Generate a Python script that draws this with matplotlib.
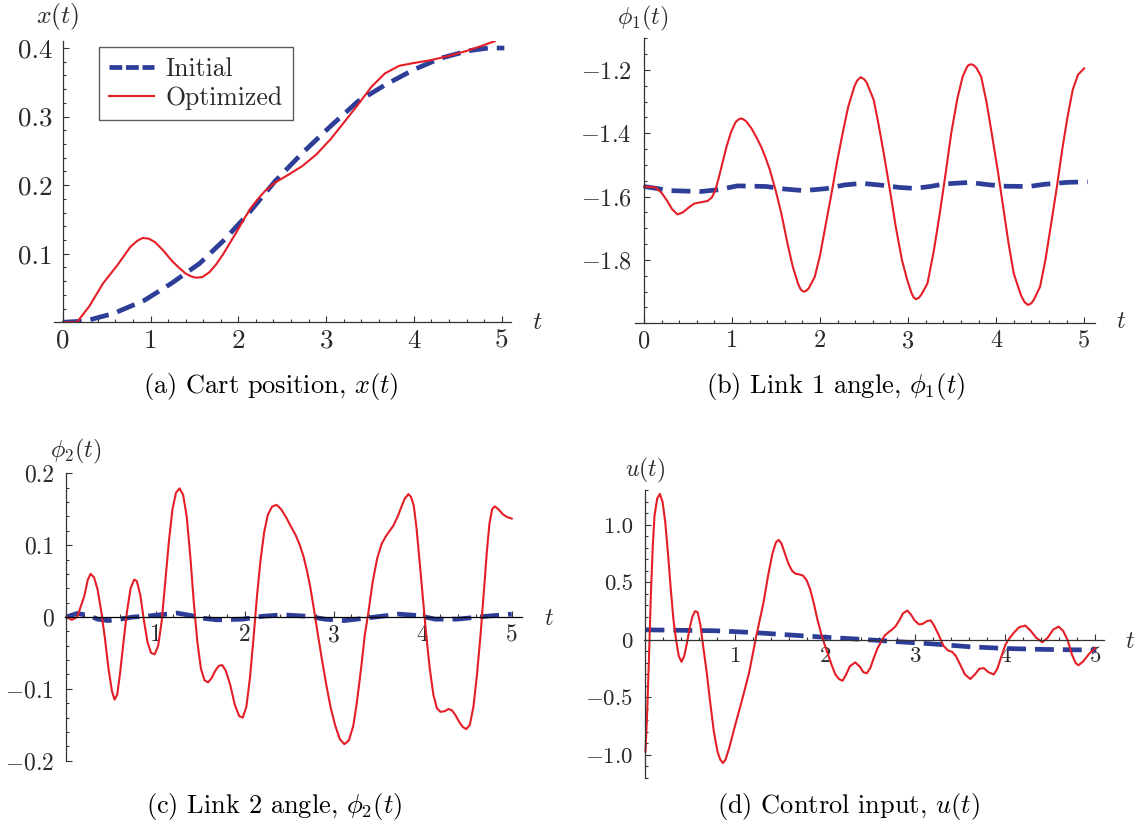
import matplotlib.pyplot as plt
from matplotlib.lines import Line2D
from matplotlib.ticker import FixedLocator, FixedFormatter, MultipleLocator

# Computer Modern look for all text
plt.rcParams['font.family'] = 'serif'
plt.rcParams['font.serif'] = ['cmr10']
plt.rcParams['mathtext.fontset'] = 'cm'
plt.rcParams['axes.formatter.use_mathtext'] = True

INIT_COLOR = '#2E3D98'
OPT_COLOR = '#E41E26'
AXIS_COLOR = '#333333'
TEXT_COLOR = '#2a2a2a'

# (a) cart position
t_x_opt = [0, 0.16, 0.30, 0.46, 0.62, 0.77, 0.85, 0.91, 0.98, 1.05, 1.15, 1.24, 1.32, 1.40, 1.46, 1.52,
           1.59, 1.67, 1.75, 1.83, 1.91, 1.99, 2.07, 2.15, 2.23, 2.30, 2.42, 2.58, 2.73, 2.89, 3.05, 3.20,
           3.36, 3.52, 3.67, 3.83, 3.99, 4.18, 4.38, 4.58, 4.77, 4.92]
x_opt = [0, 0, 0.023, 0.057, 0.083, 0.110, 0.119, 0.123, 0.122, 0.117, 0.104, 0.090, 0.080, 0.071, 0.067,
         0.065, 0.066, 0.073, 0.085, 0.100, 0.117, 0.134, 0.152, 0.168, 0.181, 0.191, 0.204, 0.216, 0.228,
         0.245, 0.267, 0.291, 0.317, 0.344, 0.363, 0.374, 0.378, 0.382, 0.388, 0.395, 0.403, 0.410]
t_x_init = [0, 0.26, 0.58, 0.93, 1.24, 1.56, 1.83, 2.11, 2.42, 2.73, 3.05, 3.36, 3.67, 3.99, 4.30, 4.62,
            4.85, 5.03]
x_init = [0, 0.002, 0.013, 0.032, 0.057, 0.086, 0.119, 0.158, 0.206, 0.247, 0.286, 0.322, 0.346, 0.368,
          0.385, 0.396, 0.400, 0.400]

# (b) link 1 angle
t_phi1_opt = [0, 0.13, 0.20, 0.26, 0.32, 0.38, 0.44, 0.51, 0.57, 0.64, 0.72, 0.77, 0.81, 0.85, 0.89, 0.94,
              0.99, 1.04, 1.07, 1.10, 1.13, 1.16, 1.22, 1.28, 1.33, 1.38, 1.43, 1.50, 1.56, 1.63, 1.69,
              1.75, 1.78, 1.81, 1.84, 1.87, 1.94, 2.00, 2.06, 2.13, 2.19, 2.26, 2.32, 2.39, 2.42, 2.46,
              2.50, 2.53, 2.61, 2.67, 2.73, 2.80, 2.86, 2.93, 2.99, 3.04, 3.065, 3.09, 3.12, 3.15, 3.22,
              3.29, 3.36, 3.43, 3.49, 3.56, 3.62, 3.67, 3.69, 3.72, 3.75, 3.78, 3.83, 3.89, 3.95, 4.02,
              4.08, 4.14, 4.20, 4.28, 4.32, 4.36, 4.40, 4.43, 4.50, 4.56, 4.62, 4.69, 4.75, 4.81, 4.87,
              4.93, 5.0]
phi1_opt = [-1.568, -1.571, -1.588, -1.612, -1.640, -1.656, -1.650, -1.634, -1.622, -1.618, -1.614,
            -1.603, -1.580, -1.540, -1.495, -1.440, -1.395, -1.365, -1.357, -1.353, -1.356, -1.362,
            -1.384, -1.414, -1.442, -1.476, -1.516, -1.585, -1.653, -1.748, -1.821, -1.875, -1.893,
            -1.900, -1.898, -1.890, -1.853, -1.785, -1.695, -1.590, -1.495, -1.395, -1.316, -1.252,
            -1.234, -1.223, -1.229, -1.240, -1.295, -1.380, -1.474, -1.590, -1.695, -1.800, -1.863,
            -1.905, -1.919, -1.924, -1.920, -1.910, -1.874, -1.775, -1.653, -1.520, -1.400, -1.290,
            -1.221, -1.190, -1.184, -1.182, -1.186, -1.195, -1.221, -1.300, -1.400, -1.520, -1.632,
            -1.745, -1.842, -1.910, -1.932, -1.942, -1.937, -1.925, -1.884, -1.800, -1.695, -1.570,
            -1.453, -1.350, -1.263, -1.215, -1.195]
t_phi1_init = [0, 0.30, 0.64, 0.85, 1.06, 1.39, 1.60, 1.81, 2.06, 2.28, 2.48, 2.70, 2.90, 3.07, 3.25,
               3.41, 3.70, 3.90, 4.08, 4.37, 4.55, 4.80, 5.04]
phi1_init = [-1.568, -1.581, -1.584, -1.578, -1.566, -1.568, -1.576, -1.581, -1.575, -1.563, -1.558,
             -1.564, -1.571, -1.574, -1.568, -1.560, -1.555, -1.562, -1.567, -1.568, -1.561, -1.555,
             -1.553]

# (c) link 2 angle
t_phi2_opt = [0, 0.06, 0.12, 0.20, 0.24, 0.27, 0.31, 0.35, 0.39, 0.43, 0.47, 0.51, 0.54, 0.57, 0.60,
              0.64, 0.68, 0.72, 0.76, 0.79, 0.83, 0.87, 0.91, 0.95, 0.99, 1.03, 1.07, 1.11, 1.15, 1.19,
              1.23, 1.27, 1.31, 1.35, 1.39, 1.43, 1.47, 1.51, 1.55, 1.59, 1.63, 1.67, 1.71, 1.75, 1.79,
              1.84, 1.89, 1.94, 1.98, 2.02, 2.06, 2.10, 2.14, 2.18, 2.22, 2.26, 2.31, 2.36, 2.41, 2.47,
              2.52, 2.57, 2.62, 2.66, 2.70, 2.74, 2.78, 2.82, 2.87, 2.92, 2.97, 3.02, 3.07, 3.12, 3.17,
              3.22, 3.26, 3.31, 3.35, 3.39, 3.44, 3.49, 3.54, 3.59, 3.63, 3.67, 3.72, 3.76, 3.80, 3.84,
              3.87, 3.90, 3.93, 3.96, 4.00, 4.04, 4.08, 4.12, 4.16, 4.20, 4.25, 4.29, 4.33, 4.37, 4.41,
              4.45, 4.49, 4.53, 4.57, 4.61, 4.65, 4.69, 4.72, 4.75, 4.78, 4.81, 4.85, 4.90, 4.95, 5.0]
phi2_opt = [0, -0.004, 0.000, 0.029, 0.052, 0.060, 0.055, 0.038, 0.008, -0.028, -0.070, -0.103, -0.115,
            -0.108, -0.080, -0.035, 0.008, 0.040, 0.052, 0.050, 0.030, -0.005, -0.035, -0.050, -0.052,
            -0.040, -0.005, 0.050, 0.105, 0.150, 0.173, 0.179, 0.170, 0.140, 0.085, 0.020, -0.035,
            -0.072, -0.088, -0.091, -0.085, -0.075, -0.068, -0.067, -0.075, -0.095, -0.122, -0.138,
            -0.140, -0.125, -0.085, -0.030, 0.030, 0.080, 0.118, 0.142, 0.154, 0.156, 0.150, 0.138,
            0.126, 0.115, 0.100, 0.085, 0.065, 0.040, 0.010, -0.022, -0.060, -0.096, -0.128, -0.152,
            -0.170, -0.177, -0.172, -0.152, -0.120, -0.070, -0.025, 0.006, 0.050, 0.082, 0.102, 0.113,
            0.120, 0.127, 0.140, 0.153, 0.165, 0.171, 0.167, 0.155, 0.125, 0.085, 0.030, -0.025, -0.072,
            -0.108, -0.127, -0.132, -0.131, -0.128, -0.130, -0.137, -0.146, -0.153, -0.156, -0.150,
            -0.125, -0.080, -0.025, 0.040, 0.090, 0.130, 0.150, 0.154, 0.150, 0.143, 0.139, 0.137]
t_phi2_init = [0, 0.12, 0.25, 0.35, 0.47, 0.60, 0.75, 0.88, 1.05, 1.24, 1.40, 1.55, 1.69, 1.98, 2.20,
               2.43, 2.71, 2.90, 3.12, 3.40, 3.73, 3.95, 4.14, 4.39, 4.71, 5.0]
phi2_init = [0, 0.005, 0.002, -0.003, -0.005, -0.003, 0.000, 0.001, 0.003, 0.0055, 0.002, -0.002, -0.004,
             -0.003, 0.001, 0.003, 0.001, -0.003, -0.005, -0.001, 0.004, 0.002, -0.003, -0.003, 0.001,
             0.004]

# (d) control input
t_u_opt = [0.0, 0.02, 0.04, 0.06, 0.08, 0.10, 0.13, 0.16, 0.19, 0.22, 0.25, 0.28, 0.31, 0.34, 0.37, 0.40,
           0.43, 0.46, 0.49, 0.52, 0.55, 0.58, 0.61, 0.64, 0.68, 0.72, 0.76, 0.80, 0.83, 0.86, 0.89,
           0.93, 0.99, 1.07, 1.15, 1.23, 1.31, 1.36, 1.41, 1.45, 1.48, 1.51, 1.55, 1.59, 1.63, 1.67,
           1.71, 1.75, 1.79, 1.83, 1.87, 1.91, 1.95, 1.99, 2.03, 2.07, 2.11, 2.15, 2.19, 2.23, 2.27,
           2.33, 2.38, 2.42, 2.46, 2.50, 2.54, 2.58, 2.63, 2.66, 2.70, 2.74, 2.78, 2.82, 2.86, 2.91,
           2.95, 2.99, 3.04, 3.08, 3.13, 3.17, 3.21, 3.26, 3.31, 3.36, 3.41, 3.45, 3.50, 3.55, 3.61,
           3.66, 3.71, 3.76, 3.81, 3.87, 3.91, 3.96, 4.00, 4.04, 4.09, 4.15, 4.22, 4.28, 4.34, 4.41,
           4.47, 4.53, 4.59, 4.64, 4.69, 4.74, 4.78, 4.81, 4.86, 4.93, 5.0]
u_opt = [-0.97, -0.60, -0.12, 0.40, 0.80, 1.08, 1.23, 1.27, 1.20, 1.02, 0.75, 0.45, 0.18, 0.00, -0.14,
         -0.19, -0.14, -0.03, 0.10, 0.20, 0.25, 0.24, 0.13, -0.05, -0.28, -0.55, -0.80, -0.97, -1.04,
         -1.07, -1.04, -0.94, -0.76, -0.53, -0.29, 0.03, 0.32, 0.55, 0.75, 0.85, 0.87, 0.84, 0.75, 0.66,
         0.60, 0.575, 0.57, 0.56, 0.52, 0.44, 0.32, 0.18, 0.06, -0.04, -0.13, -0.22, -0.30, -0.34, -0.355,
         -0.30, -0.23, -0.195, -0.23, -0.28, -0.29, -0.24, -0.15, -0.07, 0.00, 0.04, 0.067, 0.09, 0.12,
         0.17, 0.23, 0.256, 0.22, 0.17, 0.135, 0.14, 0.165, 0.17, 0.12, 0.04, -0.05, -0.09, -0.105,
         -0.14, -0.22, -0.30, -0.34, -0.30, -0.25, -0.245, -0.28, -0.30, -0.25, -0.13, -0.04, 0.01,
         0.06, 0.11, 0.125, 0.08, 0.02, -0.02, 0.02, 0.09, 0.116, 0.08, 0.0, -0.13, -0.20, -0.22, -0.19,
         -0.12, -0.07]
t_u_init = [0, 0.78, 1.19, 1.59, 1.99, 2.39, 2.80, 3.20, 3.60, 4.0, 4.41, 5.01]
u_init = [0.088, 0.080, 0.065, 0.044, 0.024, 0.006, -0.015, -0.035, -0.059, -0.074, -0.082, -0.088]

W, H = 1139, 827
fig = plt.figure(figsize=(W / 100, H / 100), dpi=100)


def px_axes(left, top, right, bottom):
    return fig.add_axes([left / W, 1 - bottom / H, (right - left) / W, (bottom - top) / H])


def style_axes(ax, xlim, ylim, x_cross, xticks, xlabels, yticks, ylabels, y_minor, size, ypad):
    ax.set_xlim(*xlim)
    ax.set_ylim(*ylim)
    ax.patch.set_alpha(0)
    for side in ('top', 'right'):
        ax.spines[side].set_visible(False)
    ax.spines['left'].set_position(('data', 0))
    ax.spines['bottom'].set_position(('data', x_cross))
    for side in ('left', 'bottom'):
        ax.spines[side].set_color(AXIS_COLOR)
        ax.spines[side].set_linewidth(0.9)
    ax.xaxis.set_major_locator(FixedLocator(xticks))
    ax.xaxis.set_major_formatter(FixedFormatter(xlabels))
    ax.yaxis.set_major_locator(FixedLocator(yticks))
    ax.yaxis.set_major_formatter(FixedFormatter(ylabels))
    ax.xaxis.set_minor_locator(MultipleLocator(0.2))
    ax.yaxis.set_minor_locator(MultipleLocator(y_minor))
    ax.tick_params(which='both', direction='in', color=AXIS_COLOR, width=0.8,
                   labelsize=size, labelcolor=TEXT_COLOR)
    ax.tick_params(which='major', length=4.5)
    ax.tick_params(which='minor', length=2.5)
    ax.tick_params(axis='x', which='major', pad=5)
    ax.tick_params(axis='y', which='major', pad=ypad)


def draw_pair(ax, t_init, y_init, t_opt, y_opt):
    ax.plot(t_init, y_init, color=INIT_COLOR, lw=3.4, dashes=(4, 1.9), dash_capstyle='butt')
    ax.plot(t_opt, y_opt, color=OPT_COLOR, lw=1.5)


# (a) Cart position
ax_a = px_axes(54, 40.7, 510.5, 322.3)
draw_pair(ax_a, t_x_init, x_init, t_x_opt, x_opt)
style_axes(ax_a, (-0.1, 5.1), (0, 0.4107), 0, [0, 1, 2, 3, 4, 5], ['0', '1', '2', '3', '4', '5'],
           [0.1, 0.2, 0.3, 0.4], ['0.1', '0.2', '0.3', '0.4'], 0.02, 19.5, 7.5)
handles = [Line2D([], [], color=INIT_COLOR, lw=3.4, dashes=(2.7, 0.8), dash_capstyle='butt'),
           Line2D([], [], color=OPT_COLOR, lw=1.5)]
leg = ax_a.legend(handles, ['Initial', 'Optimized'], loc='upper left', bbox_to_anchor=(99 / W, 1 - 47 / H),
                  bbox_transform=fig.transFigure, fontsize=18.5, frameon=True, fancybox=False,
                  handlelength=1.75, handletextpad=0.45, borderpad=0.4, labelspacing=0.2,
                  borderaxespad=0)
leg.get_frame().set_edgecolor('#333333')
leg.get_frame().set_linewidth(1.0)
for txt in leg.get_texts():
    txt.set_color(TEXT_COLOR)

# (b) Link 1 angle
ax_b = px_axes(635.2, 38.3, 1094.7, 323.3)
draw_pair(ax_b, t_phi1_init, phi1_init, t_phi1_opt, phi1_opt)
style_axes(ax_b, (-0.1, 5.12), (-2.0, -1.1), -2.0, [0, 1, 2, 3, 4, 5], ['0', '1', '2', '3', '4', '5'],
           [-1.8, -1.6, -1.4, -1.2], [r'$-1.8$', r'$-1.6$', r'$-1.4$', r'$-1.2$'], 0.05, 17.5, 9)

# (c) Link 2 angle
ax_c = px_axes(64.7, 473.3, 522.4, 760.7)
draw_pair(ax_c, t_phi2_init, phi2_init, t_phi2_opt, phi2_opt)
style_axes(ax_c, (-0.02, 5.12), (-0.2, 0.2), 0, [1, 2, 3, 4, 5], ['1', '2', '3', '4', '5'],
           [-0.2, -0.1, 0, 0.1, 0.2], [r'$-0.2$', r'$-0.1$', '0', '0.1', '0.2'], 0.02, 17, 9)
ax_c.spines['bottom'].set_color('black')

# (d) Control input; a little room left of t=0 so the first steep segment is not clipped
ax_d = px_axes(643.7, 490, 1104, 778.3)
draw_pair(ax_d, t_u_init, u_init, t_u_opt, u_opt)
style_axes(ax_d, (-0.02, 5.095), (-1.203, 1.304), 0, [1, 2, 3, 4, 5], ['1', '2', '3', '4', '5'],
           [-1.0, -0.5, 0, 0.5, 1.0], [r'$-1.0$', r'$-0.5$', '0', '0.5', '1.0'], 0.1, 16.5, 9)

# Axis names and sub-captions
labels = [(58, 16, r'$x(t)$', 18.5), (643, 18, r'$\phi_1(t)$', 17.5), (76, 451, r'$\phi_2(t)$', 17.5),
          (645, 470, r'$u(t)$', 17), (537, 322, r'$t$', 18.5), (1121, 322, r'$t$', 17.5),
          (549, 619, r'$t$', 17), (1130, 642, r'$t$', 17)]
for x, y, s, size in labels:
    fig.text(x / W, 1 - y / H, s, fontsize=size, ha='center', va='center', color=TEXT_COLOR)

captions = [(271, 386, r'(a) Cart position, $x(t)$'), (836, 386, r'(b) Link 1 angle, $\phi_1(t)$'),
            (274, 806, r'(c) Link 2 angle, $\phi_2(t)$'), (848, 806, r'(d) Control input, $u(t)$')]
for x, y, s in captions:
    fig.text(x / W, 1 - y / H, s, fontsize=19, ha='center', va='center')

fig.savefig('out.png', dpi=100)
